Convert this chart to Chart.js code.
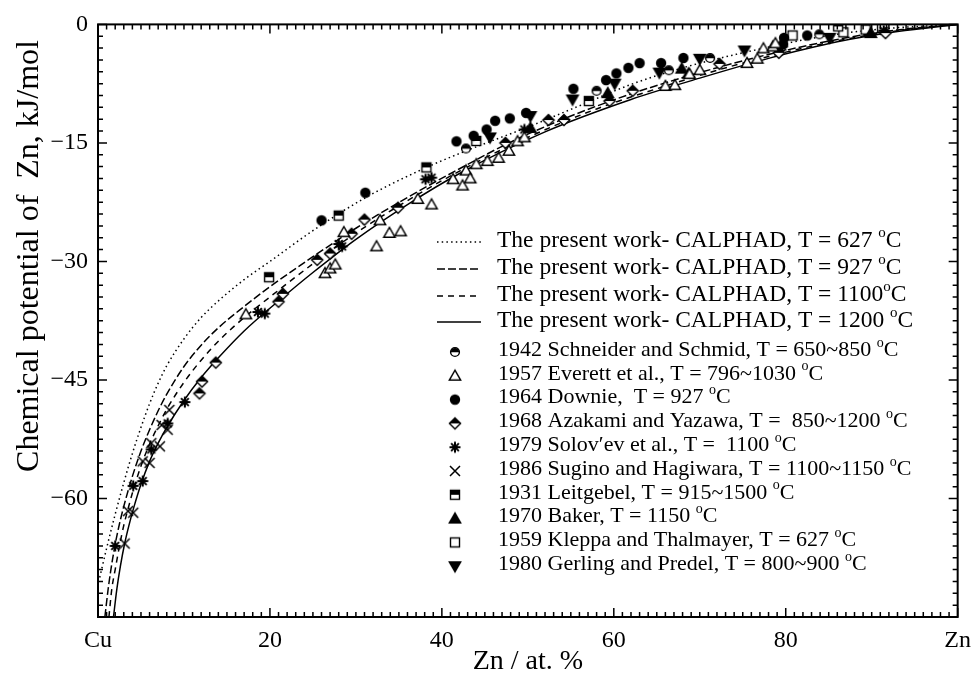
<!DOCTYPE html>
<html>
<head>
<meta charset="utf-8">
<script src="https://cdn.jsdelivr.net/npm/chart.js"></script>
<style>
  html, body { margin: 0; padding: 0; background: #fff; }
  canvas { display: block; }
</style>
</head>
<body>
<canvas id="muChart" width="980" height="680"></canvas>
<script>
// Eixos e rótulos
const xTickValues = [0, 20, 40, 60, 80, 100];
const xTickLabels = ["Cu", "20", "40", "60", "80", "Zn"];
const yTickValues = [0, -15, -30, -45, -60];
const yTickLabels = ["0", "\u221215", "\u221230", "\u221245", "\u221260"];

// Curvas CALPHAD
const calc627X = [0.2, 1, 2, 3, 4, 5, 6, 7, 8, 10, 12, 14, 17, 20, 25, 31, 38, 44, 50, 56, 62, 68, 75, 85, 92, 100];
const calc627Y = [-70, -66.3, -62, -58, -54.3, -51, -48, -45.4, -43.2, -39.8, -37.1, -35, -32.3, -30, -26.1, -22, -18.2, -15.5, -13, -10.3, -7.6, -5.5, -3.6, -1.4, -0.5, 0];
const calc927X = [0.8, 1.2, 1.6, 2, 2.5, 3, 4, 5, 6, 7, 8, 10, 12, 14, 17, 20, 25, 30, 36, 42, 48, 55, 62, 70, 78, 86, 93, 100];
const calc927Y = [-75, -71.3, -68.3, -65.8, -63.2, -61, -57.2, -54, -51.3, -48.9, -46.8, -43.3, -40.6, -38.4, -35.7, -33.2, -29.4, -25.8, -21.9, -18.3, -14.9, -11.6, -8.8, -6.1, -3.8, -1.9, -0.7, 0];
const calc1100X = [1.27, 1.6, 2, 2.5, 3, 3.5, 4, 5, 6, 7, 8, 10, 12, 14, 17, 20, 25, 30, 36, 42, 50, 58, 66, 75, 85, 93, 100];
const calc1100Y = [-75, -71.5, -69, -66, -63.4, -61.3, -59.3, -55.9, -53.1, -50.8, -48.7, -45.3, -42.5, -40.1, -37.1, -34.5, -30.3, -26.4, -22.3, -18.6, -14.3, -10.7, -7.8, -4.9, -2.3, -0.8, 0];
const calc1200X = [1.8, 2.2, 2.6, 3.1, 3.6, 4.2, 5, 6, 7, 8, 10, 12, 14, 17, 21, 25, 30, 36, 42, 52, 62, 70, 78, 86, 93, 100];
const calc1200Y = [-75, -71.4, -68.6, -65.7, -63.4, -61, -58.2, -55.3, -53, -51, -47.6, -44.7, -42.2, -38.8, -35, -31.4, -27.2, -22.8, -18.9, -13.6, -9.5, -6.8, -4.3, -2.2, -0.9, 0];

// Dados experimentais
const schneiderX = [42.8, 58, 66.4, 71.2, 83.9];
const schneiderY = [-15.7, -8.4, -5.8, -4.25, -1.25];
const everettX = [17.2, 26.4, 27, 27.6, 28.6, 32.4, 32.8, 33.9, 35.2, 37.2, 38.8, 41.3, 42.4, 42.8, 43.3, 44, 45.3, 46.6, 47.8, 48.8, 49.6, 66, 67.1, 68.8, 70, 75.5, 76.7, 77.4, 78.5, 78.8];
const everettY = [-36.7, -31.5, -30.9, -30.4, -26.3, -28.1, -24.8, -26.4, -26.2, -22.1, -22.8, -19.6, -20.4, -18.5, -19.5, -17.7, -17.3, -16.9, -16, -14.8, -14.3, -7.8, -7.7, -6.3, -5.8, -4.9, -4.35, -3.05, -2.8, -2.4];
const downieX = [26, 31.1, 41.7, 43.7, 45.2, 46.2, 47.9, 49.8, 55.3, 59.1, 60.3, 61.7, 63, 65.5, 68.1, 79.8, 79.7, 82.5];
const downieY = [-24.8, -21.3, -14.8, -14.1, -13.3, -12.2, -11.9, -11.2, -8.15, -7.05, -6.2, -5.5, -4.9, -4.9, -4.25, -1.7, -2.5, -1.4];
const azakamiX = [11.8, 12.1, 13.7, 21, 21.5, 25.5, 27, 29.5, 31, 34.9, 47.4, 52.4, 54.2, 59.5, 62.2, 72.3, 79.2, 91.6];
const azakamiY = [-46.7, -45.2, -42.8, -35.1, -34.1, -29.8, -29, -26.5, -24.7, -23.2, -15, -12.1, -12.1, -9.7, -8.4, -5, -3.6, -1.1];
const solovievX = [2, 4.1, 5.2, 6.2, 8.1, 10.1, 18.6, 19.4, 28, 28.4, 38.1, 38.8, 49.6, 79.6, 91.4];
const solovievY = [-66, -58.4, -57.8, -53.8, -50.5, -47.8, -36.4, -36.6, -27.8, -28.1, -19.6, -19.4, -13.3, -2.8, -0.8];
const suginoX = [3.1, 3.5, 4.1, 5.2, 6, 6.2, 7.2, 7.4, 8.1, 8.3];
const suginoY = [-65.7, -61.6, -61.8, -55.3, -55.5, -53, -53.4, -50.7, -51.3, -48.8];
const leitgebelX = [19.9, 28, 38.2, 44, 57.1, 86.1];
const leitgebelY = [-32, -24.2, -18.1, -14.75, -9.7, -0.25];
const bakerX = [50.3, 59.3, 67.9, 68.7, 89.9];
const bakerY = [-13.1, -8.7, -5.6, -6.2, -1.1];
const kleppaX = [80.8, 86.7, 89.3, 91.2];
const kleppaY = [-1.4, -1.0, -0.65, -0.4];
const gerlingX = [45.6, 50.3, 55.2, 60.1, 65.3, 70, 75.2, 85.1];
const gerlingY = [-14.3, -11.6, -9.5, -7.5, -6.1, -4.35, -3.3, -1.7];

const curveLabels = [
	"The present work- CALPHAD, T = 627 °C",
	"The present work- CALPHAD, T = 927 °C",
	"The present work- CALPHAD, T = 1100°C",
	"The present work- CALPHAD, T = 1200 °C",
];
const expLabels = [
	"1942 Schneider and Schmid, T = 650~850 °C",
	"1957 Everett et al., T = 796~1030 °C",
	"1964 Downie,  T = 927 °C",
	"1968 Azakami and Yazawa, T =  850~1200 °C",
	"1979 Solov\u02B9ev et al., T =  1100 °C",
	"1986 Sugino and Hagiwara, T = 1100~1150 °C",
	"1931 Leitgebel, T = 915~1500 °C",
	"1970 Baker, T = 1150 °C",
	"1959 Kleppa and Thalmayer, T = 627 °C",
	"1980 Gerling and Predel, T = 800~900 °C",
];

const FONT = "'Liberation Serif', 'Times New Roman', serif";

function pts(xs, ys) {
	return xs.map((x, i) => ({ x: x, y: ys[i] }));
}

// Marcadores desenhados num pequeno canvas
function makeMarker(kind) {
	const s = 16;
	const c = document.createElement("canvas");
	c.width = s;
	c.height = s;
	const g = c.getContext("2d");
	g.translate(s / 2, s / 2);
	g.strokeStyle = "#000";
	g.fillStyle = "#000";
	g.lineWidth = 1.4;
	if (kind === "dot") {
		g.beginPath(); g.arc(0, 0, 5.2, 0, Math.PI * 2); g.fill();
	} else if (kind === "halfDot") {
		g.beginPath(); g.arc(0, 0, 4.4, 0, Math.PI * 2); g.fillStyle = "#fff"; g.fill(); g.stroke();
		g.beginPath(); g.arc(0, 0.3, 4.4, Math.PI, Math.PI * 2); g.fillStyle = "#000"; g.fill();
	} else if (kind === "tri" || kind === "triFill") {
		g.beginPath(); g.moveTo(0, -5.6); g.lineTo(5.7, 4.3); g.lineTo(-5.7, 4.3); g.closePath();
		g.fillStyle = kind === "tri" ? "#fff" : "#000"; g.fill(); g.stroke();
	} else if (kind === "triDown") {
		g.beginPath(); g.moveTo(0, 5.6); g.lineTo(5.7, -4.3); g.lineTo(-5.7, -4.3); g.closePath();
		g.fill(); g.stroke();
	} else if (kind === "halfDiamond") {
		g.beginPath(); g.moveTo(0, -5.6); g.lineTo(5.6, 0); g.lineTo(0, 5.6); g.lineTo(-5.6, 0); g.closePath();
		g.fillStyle = "#fff"; g.fill(); g.stroke();
		g.beginPath(); g.moveTo(0, -5.6); g.lineTo(5.6, 0); g.lineTo(-5.6, 0); g.closePath();
		g.fillStyle = "#000"; g.fill();
	} else if (kind === "star") {
		g.lineWidth = 2;
		g.beginPath();
		for (let k = 0; k < 4; k++) {
			const a = (k * Math.PI) / 4;
			g.moveTo(-5.5 * Math.cos(a), -5.5 * Math.sin(a));
			g.lineTo(5.5 * Math.cos(a), 5.5 * Math.sin(a));
		}
		g.stroke();
	} else if (kind === "cross") {
		g.lineWidth = 1.5;
		g.beginPath(); g.moveTo(-5, -5); g.lineTo(5, 5); g.moveTo(5, -5); g.lineTo(-5, 5); g.stroke();
	} else if (kind === "halfSquare") {
		g.fillStyle = "#fff"; g.fillRect(-4.5, -4.5, 9, 9); g.strokeRect(-4.5, -4.5, 9, 9);
		g.fillStyle = "#000"; g.fillRect(-4.5, -4.5, 9, 4.5);
	} else if (kind === "square") {
		g.fillStyle = "#fff"; g.fillRect(-4.5, -4.5, 9, 9); g.strokeRect(-4.5, -4.5, 9, 9);
	}
	return c;
}

const expKinds = ["halfDot", "tri", "dot", "halfDiamond", "star", "cross", "halfSquare", "triFill", "square", "triDown"];
const expSeries = [
	[schneiderX, schneiderY], [everettX, everettY], [downieX, downieY], [azakamiX, azakamiY],
	[solovievX, solovievY], [suginoX, suginoY], [leitgebelX, leitgebelY], [bakerX, bakerY],
	[kleppaX, kleppaY], [gerlingX, gerlingY],
];
const markers = expKinds.map(makeMarker);

const curveSeries = [[calc627X, calc627Y], [calc927X, calc927Y], [calc1100X, calc1100Y], [calc1200X, calc1200Y]];
const curveDash = [[1.5, 3.2], [8, 3], [6, 5], []];

// Texto com "o" sobrescrito no lugar de °
function drawLabel(ctx, text, x, y, size) {
	const parts = text.split("°");
	ctx.font = size + "px " + FONT;
	ctx.fillText(parts[0], x, y);
	let w = ctx.measureText(parts[0]).width;
	if (parts.length > 1) {
		ctx.font = Math.round(size * 0.64) + "px " + FONT;
		ctx.fillText("o", x + w, y - size * 0.32);
		w += ctx.measureText("o").width;
		ctx.font = size + "px " + FONT;
		ctx.fillText(parts[1], x + w, y);
	}
}

const framePlugin = {
	id: "frame",
	afterDraw(chart) {
		const ctx = chart.ctx;
		const a = chart.chartArea;
		const x = chart.scales.x;
		const y = chart.scales.y;
		ctx.save();
		ctx.strokeStyle = "#000";
		ctx.lineWidth = 1.5;
		ctx.beginPath();
		for (let v = 0; v <= 100; v++) {
			const px = x.getPixelForValue(v);
			const len = v % 20 === 0 ? 9 : 5;
			ctx.moveTo(px, a.bottom); ctx.lineTo(px, a.bottom - len);
			ctx.moveTo(px, a.top); ctx.lineTo(px, a.top + len);
		}
		for (let i = 0; i <= 50; i++) {
			const py = y.getPixelForValue(-1.5 * i);
			const len = i % 10 === 0 ? 9 : 5;
			ctx.moveTo(a.left, py); ctx.lineTo(a.left + len, py);
			ctx.moveTo(a.right, py); ctx.lineTo(a.right - len, py);
		}
		ctx.stroke();
		ctx.lineWidth = 2;
		ctx.strokeRect(a.left, a.top, a.right - a.left, a.bottom - a.top);

		// Títulos dos eixos
		ctx.fillStyle = "#000";
		ctx.textBaseline = "middle";
		ctx.textAlign = "center";
		ctx.font = "28px " + FONT;
		ctx.fillText("Zn / at. %", (a.left + a.right) / 2, 662);
		ctx.save();
		ctx.translate(30, 256);
		ctx.rotate(-Math.PI / 2);
		ctx.font = "32px " + FONT;
		ctx.fillText("Chemical potential of  Zn, kJ/mol", 0, 0);
		ctx.restore();

		// Legenda
		ctx.textAlign = "left";
		const lineRows = [241, 268, 295, 321];
		curveLabels.forEach((t, i) => {
			ctx.setLineDash(curveDash[i]);
			ctx.lineWidth = 1.5;
			ctx.beginPath();
			ctx.moveTo(437, lineRows[i] + 1);
			ctx.lineTo(481, lineRows[i] + 1);
			ctx.stroke();
			ctx.setLineDash([]);
			drawLabel(ctx, t, 497, lineRows[i], 23.5);
		});
		expLabels.forEach((t, i) => {
			const ry = 350 + i * 23.8;
			const m = markers[i];
			ctx.drawImage(m, 455 - m.width / 2, ry + 2 - m.height / 2);
			drawLabel(ctx, t, 498, ry, 22);
		});
		ctx.restore();
	},
};

document.addEventListener("DOMContentLoaded", function () {
	const datasets = [];
	curveSeries.forEach((s, i) => {
		datasets.push({
			label: curveLabels[i],
			data: pts(s[0], s[1]),
			showLine: true,
			borderColor: "#000",
			borderWidth: 1.5,
			borderDash: curveDash[i],
			pointRadius: 0,
			cubicInterpolationMode: "monotone",
			order: 1,
		});
	});
	expSeries.forEach((s, i) => {
		datasets.push({
			label: expLabels[i],
			data: pts(s[0], s[1]),
			pointStyle: markers[i],
			pointRadius: 5,
			order: 0,
		});
	});

	new Chart(document.getElementById("muChart").getContext("2d"), {
		type: "scatter",
		data: { datasets: datasets },
		options: {
			responsive: false,
			animation: false,
			devicePixelRatio: 1,
			layout: { padding: { top: 23, right: 17, bottom: 0, left: 0 } },
			plugins: { legend: { display: false }, tooltip: { enabled: false } },
			scales: {
				x: {
					type: "linear",
					min: 0,
					max: 100,
					grid: { display: false, drawTicks: false },
					border: { display: false },
					afterBuildTicks: (s) => { s.ticks = xTickValues.map((v) => ({ value: v })); },
					afterFit: (s) => { s.height = 63; },
					ticks: {
						padding: 9,
						color: "#000",
						font: { family: FONT, size: 24 },
						maxRotation: 0,
						callback: (v) => xTickLabels[xTickValues.indexOf(v)],
					},
				},
				y: {
					type: "linear",
					min: -75,
					max: 0,
					grid: { display: false, drawTicks: false },
					border: { display: false },
					afterBuildTicks: (s) => { s.ticks = yTickValues.map((v) => ({ value: v })); },
					afterFit: (s) => { s.width = 98; },
					ticks: {
						padding: 10,
						color: "#000",
						font: { family: FONT, size: 24 },
						callback: (v) => yTickLabels[yTickValues.indexOf(v)],
					},
				},
			},
		},
		plugins: [framePlugin],
	});
});
</script>
</body>
</html>
